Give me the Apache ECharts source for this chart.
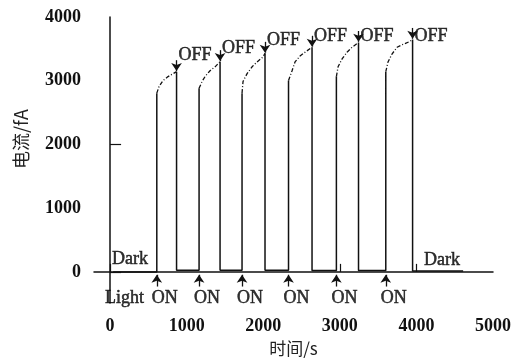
<!DOCTYPE html>
<html><head><meta charset="utf-8">
<script src="https://cdn.jsdelivr.net/npm/echarts@6/dist/echarts.min.js"></script>
<style>html,body{margin:0;padding:0;background:#fff}#c{width:523px;height:362px}</style>
</head><body><div id="c"></div>
<script>
// ---- data ----
const xTickLabels = [0, 1000, 2000, 3000, 4000, 5000];
const yTickLabels = [0, 1000, 2000, 3000, 4000];
const darkStartTime = 40;
const darkEndTime = 4610;
const onTimes  = [610, 1162, 1723, 2330, 2955, 3600];
const offTimes = [868, 1436, 2023, 2637, 3244, 3950];
const baseCurrents = [0, 25, 25, 25, 20, 20, 15];   // dark current before each ON (last = after final OFF)
const curve1 = [[610,2805],[640,2912],[692,3004],[757,3065],[822,3111],[868,3142]];
const curve2 = [[1162,2881],[1201,2988],[1240,3065],[1305,3157],[1371,3218],[1436,3300]];
const curve3 = [[1723,2805],[1736,2988],[1789,3111],[1854,3218],[1919,3295],[1997,3372],[2023,3430]];
const curve4 = [[2330,3004],[2376,3157],[2415,3295],[2480,3387],[2546,3448],[2637,3525]];
const curve5 = [[2955,3065],[2977,3218],[3029,3341],[3094,3448],[3159,3525],[3244,3600]];
const curve6 = [[3600,3142],[3629,3295],[3681,3418],[3747,3525],[3825,3571],[3916,3617],[3950,3648]];
const curves = [curve1, curve2, curve3, curve4, curve5, curve6];
const offLabelCurrents = [3400, 3510, 3630, 3695, 3695, 3695];
const onLabelCurrent = -410;
const darkLabels = [[26, 200, 'Dark'], [4100, 175, 'Dark']];
const lightLabel = [-65, -410, 'Light'];

// ---- build series ----
const GAP = ['-', '-'];
const trace = [[darkStartTime, baseCurrents[0]]];
const curveData = [];
curves.forEach((c, i) => {
  const peak = c[c.length - 1];
  trace.push([onTimes[i], baseCurrents[i]]);
  trace.push([onTimes[i], c[0][1]]);
  trace.push(GAP);
  trace.push([offTimes[i], peak[1]]);
  trace.push([offTimes[i], baseCurrents[i + 1]]);
  c.forEach(p => curveData.push(p));
  curveData.push(GAP);
});
trace.push([darkEndTime, baseCurrents[baseCurrents.length - 1]]);

const serif = 'Liberation Serif, Times New Roman, serif';
const txt = {color: '#000', fontFamily: serif, fontSize: 18, textBorderColor: '#000', textBorderWidth: 0.5};

const arrows = [];
curves.forEach((c, i) => {
  const peak = c[c.length - 1][1];
  arrows.push([{coord: [offTimes[i], peak + 180]}, {coord: [offTimes[i], peak + 10]}]);
  arrows.push([{coord: [onTimes[i], -230]}, {coord: [onTimes[i], -45]}]);
});

const offPts = offTimes.map((t, i) => ({value: [t, offLabelCurrents[i]],
  label: {show: true, formatter: 'OFF', position: 'right', distance: 2, ...txt}}));
const onPts = onTimes.map(t => ({value: [t, onLabelCurrent],
  label: {show: true, formatter: 'ON', position: 'right', distance: 0, offset: [-5, 0], ...txt}}));
const textPts = darkLabels.concat([lightLabel]).map(d => ({value: [d[0], d[1]],
  label: {show: true, formatter: d[2], position: 'right', distance: 0, ...txt}}));

const chart = echarts.init(document.getElementById('c'), null, {renderer: 'canvas'});
chart.setOption({
  animation: false,
  backgroundColor: '#fff',
  grid: {left: 94, right: 30, top: 17, bottom: 52, containLabel: false},
  xAxis: {
    type: 'value', min: -210, max: 5000,
    name: '时间/s', nameLocation: 'middle', nameGap: 29,
    nameTextStyle: {color: '#222', fontFamily: 'Noto Sans CJK SC', fontSize: 17},
    axisLine: {lineStyle: {color: '#111', width: 1.5}},
    axisTick: {show: true, inside: true, length: 8, customValues: [0, 3000, 4000], lineStyle: {color: '#111', width: 1.2}},
    axisLabel: {customValues: xTickLabels, formatter: v => String(v), margin: 14, color: '#111', fontFamily: serif, fontSize: 18, fontWeight: 'bold'},
    splitLine: {show: false}
  },
  yAxis: {
    type: 'value', min: -490, max: 4000,
    name: '电流/fA', nameLocation: 'middle', nameGap: 64,
    nameTextStyle: {color: '#222', fontFamily: 'Noto Sans CJK SC', fontSize: 18, padding: [0, 0, 0, 42]},
    axisLine: {show: true, lineStyle: {color: '#111', width: 1.5}},
    axisTick: {show: true, inside: true, length: 11, customValues: [0, 2000], lineStyle: {color: '#111', width: 1.2}},
    axisLabel: {customValues: yTickLabels, formatter: v => String(v), margin: 13, color: '#111', fontFamily: serif, fontSize: 18, fontWeight: 'bold'},
    splitLine: {show: false}
  },
  series: [
    {type: 'line', name: 'trace', data: trace, symbol: 'none', connectNulls: false,
     lineStyle: {color: '#111', width: 1.5},
     markLine: {silent: true, symbol: ['none', 'arrow'], symbolSize: 8, label: {show: false},
       emphasis: {disabled: true},
       lineStyle: {color: '#111', width: 1.3, type: 'solid'}, data: arrows}},
    {type: 'line', name: 'rise', data: curveData, symbol: 'none', connectNulls: false,
     lineStyle: {color: '#111', width: 1.3, type: [4, 2, 1, 2]}},
    {type: 'scatter', data: offPts.concat(onPts, textPts), symbolSize: 0, silent: true}
  ]
});
</script></body></html>
